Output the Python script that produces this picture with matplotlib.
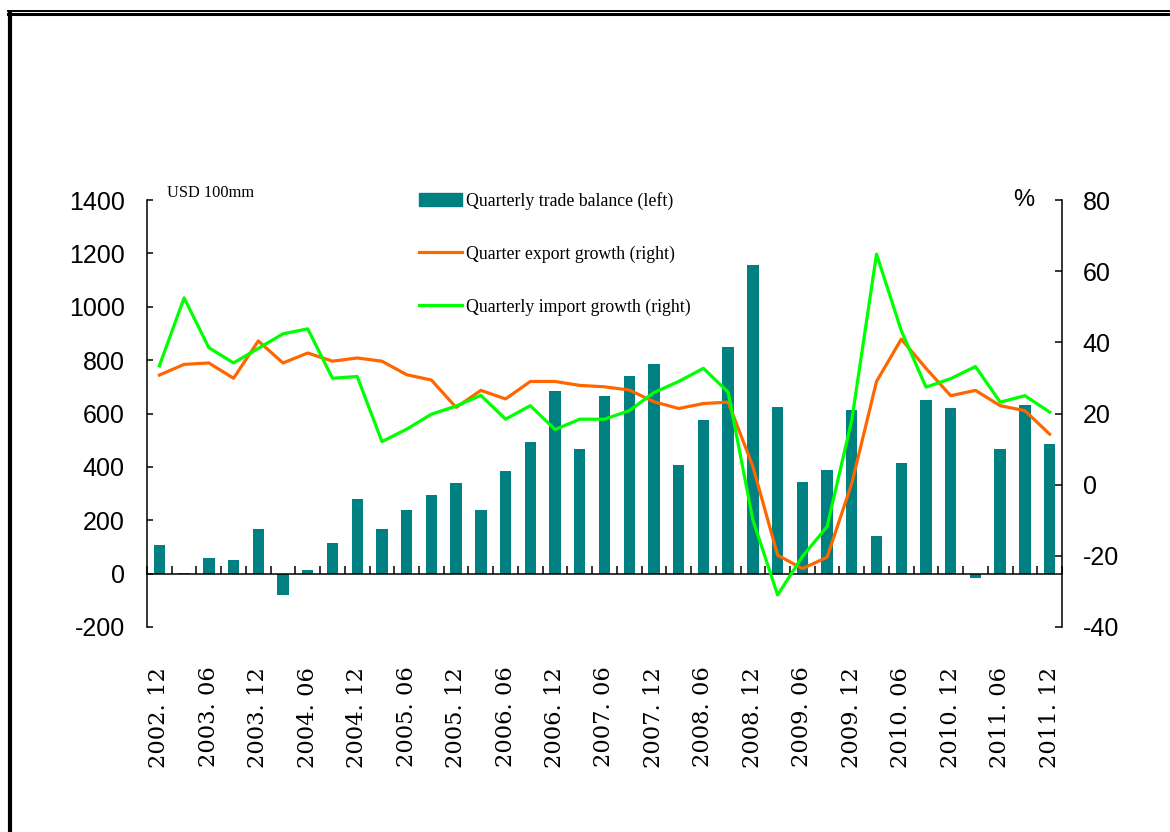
import matplotlib
matplotlib.use("Agg")
import matplotlib.pyplot as plt
from matplotlib.lines import Line2D
import numpy as np

quarters = ["2002. 12", "2003. 03", "2003. 06", "2003. 09", "2003. 12", "2004. 03", "2004. 06",
            "2004. 09", "2004. 12", "2005. 03", "2005. 06", "2005. 09", "2005. 12", "2006. 03",
            "2006. 06", "2006. 09", "2006. 12", "2007. 03", "2007. 06", "2007. 09", "2007. 12",
            "2008. 03", "2008. 06", "2008. 09", "2008. 12", "2009. 03", "2009. 06", "2009. 09",
            "2009. 12", "2010. 03", "2010. 06", "2010. 09", "2010. 12", "2011. 03", "2011. 06",
            "2011. 09", "2011. 12"]

trade_balance = [108, 4, 60, 52, 168, -81, 15, 116, 281, 168, 240, 296, 341, 240, 386, 494,
                 686, 468, 667, 742, 787, 408, 577, 850, 1158, 625, 345, 390, 614, 142, 415,
                 652, 622, -16, 468, 633, 487]

export_growth = [30.8, 33.8, 34.2, 29.9, 40.4, 34.2, 37.0, 34.7, 35.6, 34.7, 30.9, 29.4, 21.7,
                 26.5, 24.1, 29.0, 29.0, 27.9, 27.5, 26.6, 23.3, 21.4, 22.8, 23.2, 5.1, -19.8,
                 -23.6, -20.4, 0.4, 29.0, 40.9, 32.7, 25.0, 26.5, 22.2, 20.8, 14.2]

import_growth = [33.4, 52.5, 38.5, 34.2, 38.3, 42.4, 43.8, 29.9, 30.4, 12.1, 15.6, 19.8, 22.1,
                 25.1, 18.4, 22.2, 15.5, 18.4, 18.4, 20.8, 25.9, 29.0, 32.7, 26.0, -9.9, -31.0,
                 -20.2, -11.8, 18.2, 64.8, 43.3, 27.4, 29.8, 33.2, 23.2, 25.0, 20.4]

left_ticks = [-200, 0, 200, 400, 600, 800, 1000, 1200, 1400]
right_ticks = [-40, -20, 0, 20, 40, 60, 80]

series_names = ["Quarterly trade balance (left)", "Quarter export growth (right)",
                "Quarterly import growth (right)"]

TEAL = "#008080"
ORANGE = "#FF6600"
GREEN = "#00FF00"

W, H = 1170, 832
fig = plt.figure(figsize=(W / 100, H / 100), dpi=100)

def fx(px):
    return px / W

def fy(py):
    return 1 - py / H

ax = fig.add_axes([fx(147), fy(627), fx(1062) - fx(147), fy(200) - fy(627)])
ax2 = ax.twinx()

x = np.arange(len(quarters))
ax.bar(x, trade_balance, width=0.46, color=TEAL, zorder=2, label=series_names[0])
ln1, = ax2.plot(x, export_growth, color=ORANGE, lw=2.3, zorder=3, label=series_names[1])
ln2, = ax2.plot(x, import_growth, color=GREEN, lw=2.3, zorder=3, label=series_names[2])

ax.set_xlim(-0.5, len(quarters) - 0.5)
ax.set_ylim(-200, 1400)
ax2.set_ylim(-40, 80)

ax.set_yticks(left_ticks)
ax2.set_yticks(right_ticks)

num_font = ["Liberation Sans"]
ax.set_yticklabels([str(v) for v in left_ticks], family=num_font, fontsize=18)
ax2.set_yticklabels([str(v) for v in right_ticks], family=num_font, fontsize=18)

ax.tick_params(axis="y", direction="in", length=4, width=1.1, pad=16, colors="black")
ax2.tick_params(axis="y", direction="in", length=5, width=1.1, pad=15, colors="black")

for a in (ax, ax2):
    a.spines["top"].set_visible(False)
    a.spines["left"].set_linewidth(1.1)
    a.spines["right"].set_linewidth(1.1)
ax2.spines["bottom"].set_visible(False)
ax2.spines["left"].set_visible(False)
ax.spines["right"].set_visible(False)

# x axis along the zero line
ax.spines["bottom"].set_position(("data", 0))
ax.spines["bottom"].set_linewidth(1.1)
ax.set_xticks(x[::2])
ax.set_xticklabels(quarters[::2], rotation=90, family="DejaVu Serif", fontsize=16.3)
ax.set_xticks(np.arange(-0.5, len(quarters) - 0.4, 1.0), minor=True)
ax.tick_params(axis="x", which="major", length=0, pad=67)
ax.tick_params(axis="x", which="minor", direction="in", length=6, width=1.1)

ax.set_zorder(ax2.get_zorder() - 1)
ax.patch.set_visible(False)

# unit labels
fig.text(fx(167), fy(193), "USD 100mm", family="Liberation Serif", fontsize=11.8,
         ha="left", va="center")
fig.text(fx(1024), fy(200), "%", family="Liberation Sans", fontsize=17,
         ha="center", va="center")

# legend
handles = [plt.Rectangle((0, 0), 1, 1, color=TEAL), ln1, ln2]
leg = fig.legend(handles, series_names, loc="upper left",
                 bbox_to_anchor=(fx(419), fy(192)), frameon=False,
                 prop={"family": "Liberation Serif", "size": 12.8},
                 handlelength=2.4, handleheight=0.78, handletextpad=0.22,
                 labelspacing=2.0, borderpad=0, borderaxespad=0)

# page frame
fig.add_artist(Line2D([fx(8), 1], [fy(10.5), fy(10.5)], color="black", lw=1.4))
fig.add_artist(Line2D([fx(8), 1], [fy(14), fy(14)], color="black", lw=2.2))
fig.add_artist(Line2D([fx(9.5), fx(9.5)], [fy(13), 0], color="black", lw=3.0))

fig.savefig("out.png", dpi=100)
